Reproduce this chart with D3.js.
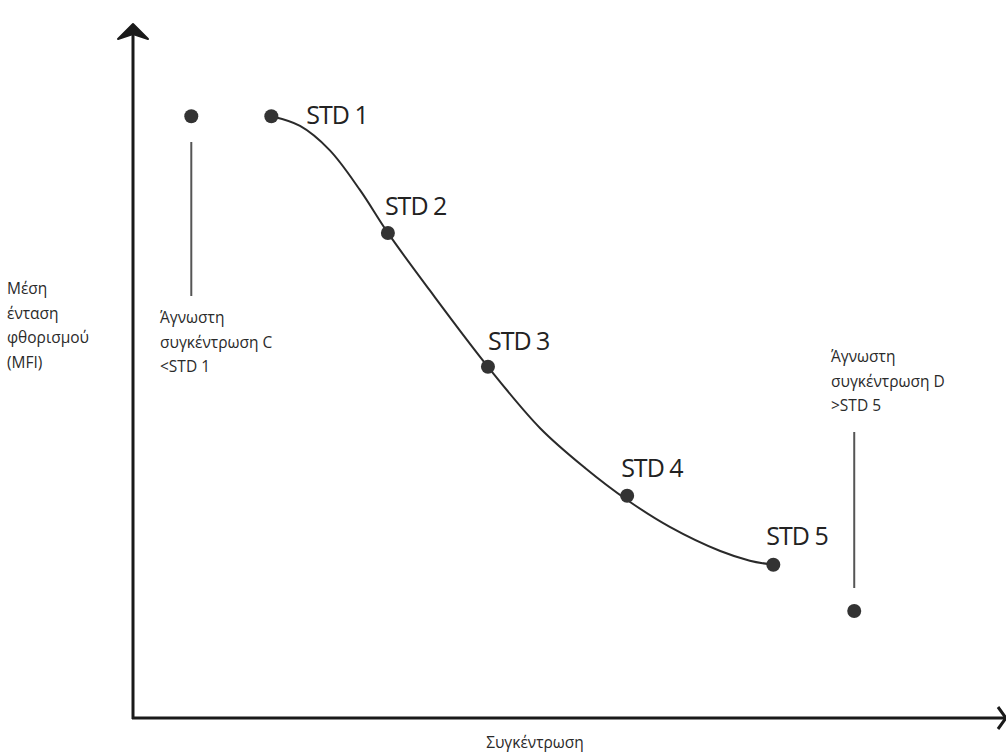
<!DOCTYPE html>
<html>
<head>
<meta charset="utf-8">
<script src="https://cdn.jsdelivr.net/npm/d3@7"></script>
<style>
  html, body { margin: 0; padding: 0; background: #ffffff; }
  svg { display: block; }
  text { font-family: "Open Sans", "Noto Sans", sans-serif; fill: #2a2a2a; }
</style>
</head>
<body>
<script>
// ---- data (arbitrary units: concentration 0-10, MFI 0-100) ----
const stdLabels = ["STD 1", "STD 2", "STD 3", "STD 4", "STD 5"];
const stdConc   = [1.59, 2.93, 4.08, 5.68, 7.36];
const stdMFI    = [87.2, 70.3, 50.9, 32.2, 22.2];
// fitted standard curve
const fitConc   = [1.59, 1.92, 2.26, 2.61, 2.93, 3.41, 4.08, 4.68, 5.20, 5.68, 6.17, 6.75, 7.09, 7.36];
const fitMFI    = [87.2, 85.8, 82.3, 76.5, 70.3, 62.0, 50.9, 42.0, 36.2, 31.6, 27.7, 24.2, 22.8, 22.2];
const unknownNames = ["C", "D"];
const unknownConc  = [0.67, 8.29];
const unknownMFI   = [87.2, 15.5];
const unknownText  = [["Άγνωστη", "συγκέντρωση C", "<STD 1"],
                      ["Άγνωστη", "συγκέντρωση D", ">STD 5"]];
const yAxisTitle = ["Μέση", "ένταση", "φθορισμού", "(MFI)"];
const xAxisTitle = "Συγκέντρωση";

const W = 1006, H = 754;
const x0 = 133, y0 = 718;
const x = d3.scaleLinear().domain([0, 10]).range([x0, 1003]);
const y = d3.scaleLinear().domain([0, 100]).range([y0, 28]);

const svg = d3.select("body").append("svg").attr("width", W).attr("height", H);

// axes
svg.append("line").attr("x1", x0).attr("y1", y0 + 1).attr("x2", x0).attr("y2", 30)
  .attr("stroke", "#1a1a1a").attr("stroke-width", 3);
svg.append("path").attr("d", `M${x0},24 L${x0 + 15},39 L${x0},34 L${x0 - 15},39 Z`)
  .attr("fill", "#1a1a1a").attr("stroke", "#1a1a1a").attr("stroke-width", 2).attr("stroke-linejoin", "round");
svg.append("line").attr("x1", x0 - 1).attr("y1", y0).attr("x2", 1006).attr("y2", y0)
  .attr("stroke", "#1a1a1a").attr("stroke-width", 3);
svg.append("path").attr("d", `M998,707 L1006,718 L998,729`)
  .attr("fill", "none").attr("stroke", "#1a1a1a").attr("stroke-width", 3);

// fitted curve
const fit = fitConc.map((c, i) => [c, fitMFI[i]]);
svg.append("path").datum(fit)
  .attr("d", d3.line().x(d => x(d[0])).y(d => y(d[1])).curve(d3.curveCatmullRom.alpha(0.5)))
  .attr("fill", "none").attr("stroke", "#2a2a2a").attr("stroke-width", 2);

// standards
svg.selectAll("circle.std").data(stdConc).join("circle").attr("class", "std")
  .attr("cx", d => x(d)).attr("cy", (d, i) => y(stdMFI[i])).attr("r", 7)
  .attr("fill", "#333");
const lblOff = [[35, 8], [-3, -18], [0, -17], [-6, -19], [-7, -20]];
svg.selectAll("text.std").data(stdLabels).join("text").attr("class", "std")
  .attr("x", (d, i) => x(stdConc[i]) + lblOff[i][0])
  .attr("y", (d, i) => y(stdMFI[i]) + lblOff[i][1])
  .attr("font-size", 25).attr("letter-spacing", -1).style("fill", "#222")
  .text(d => d);

// unknowns
svg.selectAll("circle.unk").data(unknownConc).join("circle").attr("class", "unk")
  .attr("cx", d => x(d)).attr("cy", (d, i) => y(unknownMFI[i])).attr("r", 7)
  .attr("fill", "#333");
const lineSpan = [[142, 296], [432, 588]];
svg.selectAll("line.unk").data(unknownConc).join("line").attr("class", "unk")
  .attr("x1", d => x(d)).attr("x2", d => x(d))
  .attr("y1", (d, i) => lineSpan[i][0]).attr("y2", (d, i) => lineSpan[i][1])
  .attr("stroke", "#555").attr("stroke-width", 2);
const txtPos = [[160, 323], [831, 362]];
unknownText.forEach((lines, k) => {
  const t = svg.append("text").attr("font-size", 15.5);
  lines.forEach((s, j) => t.append("tspan").attr("x", txtPos[k][0]).attr("y", txtPos[k][1] + j * 24.5).text(s));
});

// axis titles
const yt = svg.append("text").attr("font-size", 15.5);
yAxisTitle.forEach((s, j) => yt.append("tspan").attr("x", 7).attr("y", 294 + j * 24.5).text(s));
svg.append("text").attr("x", 535).attr("y", 748).attr("text-anchor", "middle")
  .attr("font-size", 15.5).text(xAxisTitle);
</script>
</body>
</html>
